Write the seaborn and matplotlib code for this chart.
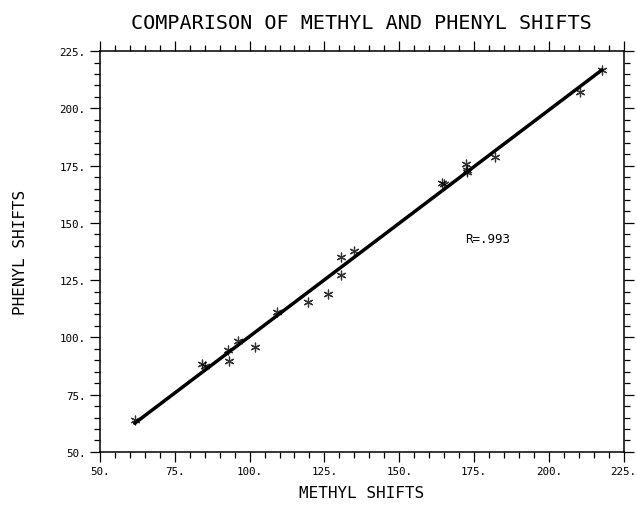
import matplotlib
matplotlib.use("Agg")
import matplotlib.pyplot as plt
import seaborn as sns
import pandas as pd
from matplotlib.ticker import MultipleLocator

# values
methyl = [61.6, 84.0, 85.0, 92.8, 93.0, 96.1, 101.9, 109.0, 119.5, 126.2,
          130.4, 130.4, 135.0, 164.4, 165.0, 172.3, 172.5, 172.6, 181.9,
          210.4, 217.8]
phenyl = [64.1, 88.5, 87.5, 94.7, 89.5, 98.3, 95.8, 111.1, 115.5, 118.8,
          135.2, 127.1, 137.6, 167.5, 167.0, 175.6, 173.3, 172.2, 178.9,
          207.3, 216.8]
tick_vals = [50, 75, 100, 125, 150, 175, 200, 225]
tick_labels = ["50.", "75.", "100.", "125.", "150.", "175.", "200.", "225."]
r_text = "R=.993"

df = pd.DataFrame({"methyl": methyl, "phenyl": phenyl})

sns.set_style("ticks", {"text.color": "black", "axes.labelcolor": "black",
                        "xtick.color": "black", "ytick.color": "black"})
plt.rcParams["font.family"] = ["DejaVu Sans Mono"]

fig = plt.figure(figsize=(6.37, 5.06), dpi=100)
ax = fig.add_axes([0.157, 0.105, 0.822, 0.792])

sns.regplot(data=df, x="methyl", y="phenyl", ax=ax, ci=None, color="black",
            marker=(6, 2, 0),
            scatter_kws={"s": 40, "linewidths": 0.9},
            line_kws={"lw": 2.5})

ax.set_xlim(50, 225)
ax.set_ylim(50, 225)
ax.set_xticks(tick_vals, tick_labels)
ax.set_yticks(tick_vals, tick_labels)
ax.xaxis.set_minor_locator(MultipleLocator(5))
ax.yaxis.set_minor_locator(MultipleLocator(5))
ax.tick_params(which="both", direction="out", top=True, right=True,
               labeltop=False, labelright=False, color="black", width=0.9)
ax.tick_params(which="major", length=7, labelsize=7.8)
ax.tick_params(which="minor", length=4)
for s in ax.spines.values():
    s.set_visible(True)
    s.set_linewidth(1.1)
    s.set_color("black")

ax.set_title("COMPARISON OF METHYL AND PHENYL SHIFTS", fontsize=14.5, pad=17)
ax.set_xlabel("METHYL SHIFTS", fontsize=11.5)
ax.set_ylabel("PHENYL SHIFTS", fontsize=11.5)
ax.xaxis.set_label_coords(0.5, -0.083)
ax.yaxis.set_label_coords(-0.138, 0.5)
ax.text(172, 143, r_text, fontsize=9, va="center")

plt.savefig("out.png", dpi=100)
